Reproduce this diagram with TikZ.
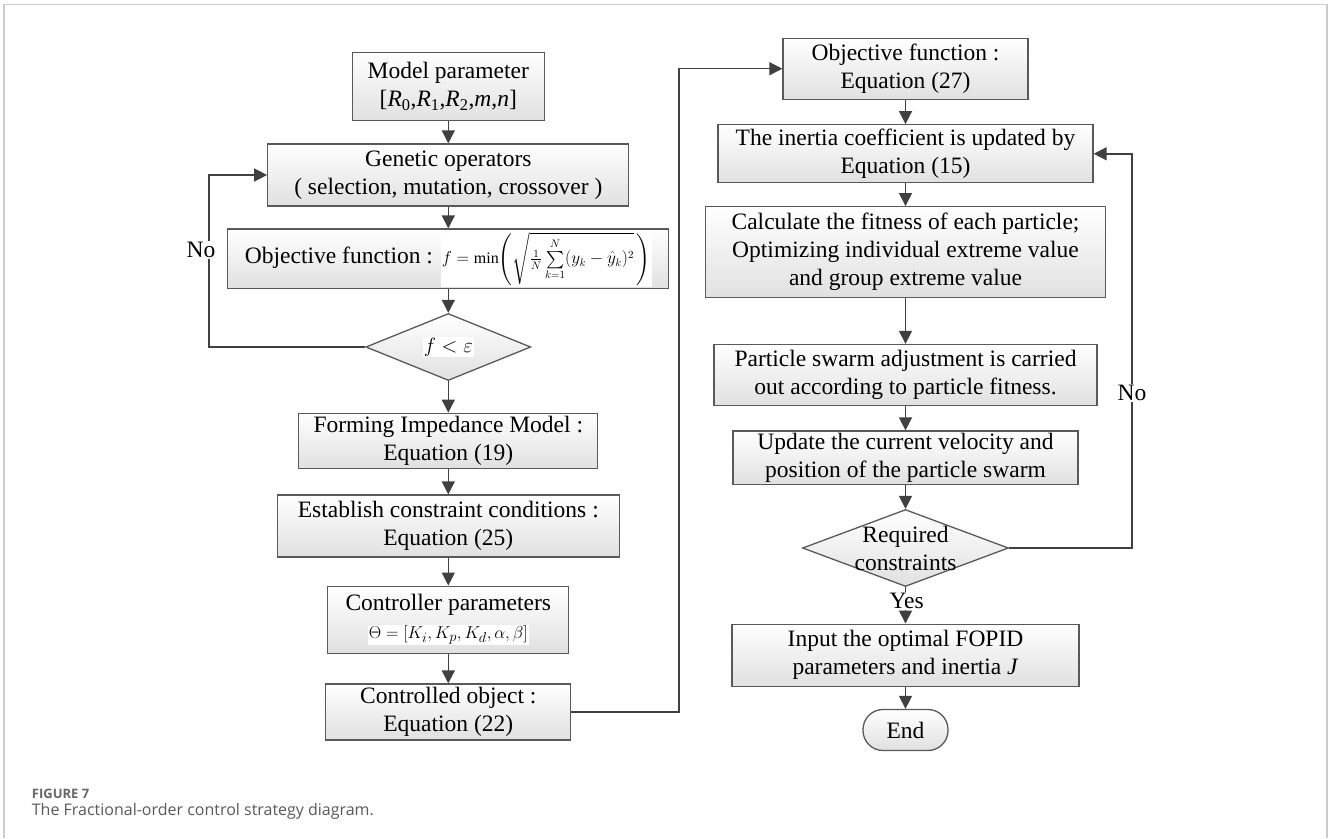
\documentclass[tikz,border=0pt]{standalone}
\usepackage{amsmath}
\usepackage{fontspec}
\setmainfont{Liberation Serif}
\newfontfamily\capfont{Open Sans}
\usetikzlibrary{positioning,arrows.meta,shapes.geometric}
\setlength{\fboxsep}{1pt}

\begin{document}
\begin{tikzpicture}[x=1pt,y=-1pt,>={Triangle[length=13pt,width=13pt]},
   every node/.style={font=\fontsize{23.5}{28}\selectfont},
   box/.style={draw=black!65,line width=1.3pt,top color=white,bottom color=black!12,
     align=center,inner sep=2pt},
   decision/.style={diamond,draw=black!65,line width=1.3pt,top color=white,
     bottom color=black!12,inner sep=0pt},
   conn/.style={->,draw=black!75,line width=1.4pt},
   lbl/.style={fill=white,inner sep=1pt}]
  \useasboundingbox (0,0) rectangle (1330,838);
  \draw[black!20,line width=1.3pt] (4,838) -- (4,4.5) -- (1327,4.5) -- (1327,838);

  \node[box,minimum width=192,minimum height=68] (mp) at (448.3,86.7)
    {Model parameter\\{}[\textit{R}\textsubscript{0},\textit{R}\textsubscript{1},\textit{R}\textsubscript{2},\textit{m},\textit{n}]};
  \node[box,minimum width=361,minimum height=62] (go) at (448.3,175)
    {Genetic operators\\( selection, mutation, crossover )};
  \node[box,minimum width=441,minimum height=59] (of1) at (448.3,258.8)
    {Objective function : \colorbox{white}{\fontsize{16}{18}\selectfont
     $f=\min\Biggl(\sqrt{\tfrac{1}{N}\sum\limits_{k=1}^{N}(y_k-\hat{y}_k)^2}\,\Biggr)$}};
  \node[decision,minimum width=165,minimum height=67,
    label={center:\colorbox{white}{\fontsize{22}{24}\selectfont$f<\varepsilon$}}] (d1) at (448.3,347) {};
  \node[box,minimum width=299,minimum height=55] (fim) at (448.3,440.8)
    {Forming Impedance Model :\\Equation (19)};
  \node[box,minimum width=342,minimum height=62] (ecc) at (448.3,526)
    {Establish constraint conditions :\\Equation (25)};
  \node[box,minimum width=241,minimum height=67] (cp) at (448.3,619.7)
    {Controller parameters\\\colorbox{white}{\fontsize{19}{21}\selectfont$\Theta=[K_i,K_p,K_d,\alpha,\beta]$}};
  \node[box,minimum width=245,minimum height=56] (co) at (448.3,712)
    {Controlled object :\\Equation (22)};

  \node[box,minimum width=245,minimum height=61] (of2) at (905.5,68.7)
    {Objective function :\\Equation (27)};
  \node[box,minimum width=375,minimum height=58] (ic) at (905.5,153.8)
    {The inertia coefficient is updated by\\Equation (15)};
  \node[box,minimum width=400,minimum height=91] (cf) at (905.5,252.2)
    {Calculate the fitness of each particle;\\Optimizing individual extreme value\\and group extreme value};
  \node[box,minimum width=383,minimum height=61] (psa) at (905.5,375)
    {Particle swarm adjustment is carried\\out according to particle fitness.};
  \node[box,minimum width=345,minimum height=53] (upd) at (905.5,457.7)
    {Update the current velocity and\\position of the particle swarm};
  \node[decision,minimum width=206,minimum height=77,
    label={[align=center]center:Required\\constraints}] (d2) at (905.5,548) {};
  \node[box,minimum width=347,minimum height=62] (inp) at (905.5,655.2)
    {Input the optimal FOPID\\parameters and inertia \textit{J}};
  \node[box,rounded corners=20pt,minimum width=85,minimum height=41] (e) at (905.5,730) {End};

  \coordinate (lL) at (209,260);
  \coordinate (lM) at (679,400);
  \coordinate (lR) at (1132,400);

  \draw[conn] (mp) -- (go);
  \draw[conn] (go) -- (of1);
  \draw[conn] (of1) -- (d1);
  \draw[conn] (d1) -- (fim);
  \draw[conn] (fim) -- (ecc);
  \draw[conn] (ecc) -- (cp);
  \draw[conn] (cp) -- (co);
  \draw[conn] (d1.west) -| (lL) |- (go.west);
  \node[lbl] (noL) at (201,250) {No};
  \draw[conn] (co.east) -| (lM) |- (of2.west);

  \draw[conn] (of2) -- (ic);
  \draw[conn] (ic) -- (cf);
  \draw[conn] (cf) -- (psa);
  \draw[conn] (psa) -- (upd);
  \draw[conn] (upd) -- (d2);
  \draw[conn] (d2.south) -- (inp.north);
  \node[lbl] (yes) at (906.7,600.7) {Yes};
  \draw[conn] (inp) -- (e);
  \draw[conn] (d2.east) -| (lR) |- (ic.east);
  \node[lbl] (noR) at (1132,393) {No};

  \node[anchor=base west,inner sep=0,text=black!60,
    font=\capfont\bfseries\fontsize{13}{15}\selectfont] (fig) at (31.7,798) {FIGURE 7};
  \node[anchor=base west,inner sep=0,text=black!65,
    font=\capfont\fontsize{16}{19}\selectfont] (cap) at (31.7,815) {The Fractional-order control strategy diagram.};
\end{tikzpicture}
\end{document}
